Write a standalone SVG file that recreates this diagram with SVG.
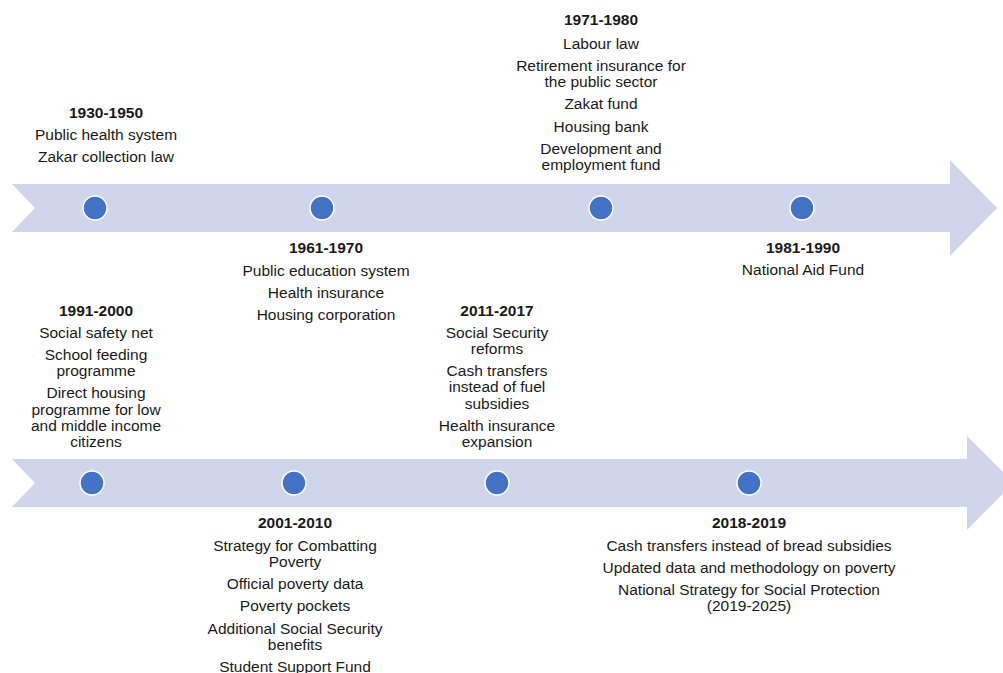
<svg xmlns="http://www.w3.org/2000/svg" width="1003" height="673" viewBox="0 0 1003 673">
<style>
.bar{fill:#CFD5EA}
.dot{fill:#4472C4;stroke:#FFFFFF;stroke-width:1.5}
text{font-family:"Liberation Sans",Arial,sans-serif;font-size:15.5px;fill:#1A1A1A;text-anchor:middle}
.t{font-weight:bold}
</style>
<rect width="1003" height="673" fill="#FFFFFF"/>
<g id="connectors">
<polygon class="bar" points="12,184 950,184 950,160 997,208 950,256 950,232 12,232 35,208"/>
<polygon class="bar" points="12,459 967,459 967,436 1014,483 967,530 967,507 12,507 35,483"/>
</g>
<g id="n1930">
<circle class="dot" cx="95" cy="208" r="12"/>
<text x="106" y="118" class="t">1930-1950</text>
<text x="106" y="140">Public health system</text>
<text x="106" y="162">Zakar collection law</text>
</g>
<g id="n1961">
<circle class="dot" cx="322" cy="208" r="12"/>
<text x="326" y="253" class="t">1961-1970</text>
<text x="326" y="276">Public education system</text>
<text x="326" y="298">Health insurance</text>
<text x="326" y="320">Housing corporation</text>
</g>
<g id="n1971">
<circle class="dot" cx="601" cy="208" r="12"/>
<text x="601" y="25" class="t">1971-1980</text>
<text x="601" y="49">Labour law</text>
<text x="601" y="71">Retirement insurance for</text>
<text x="601" y="87">the public sector</text>
<text x="601" y="109">Zakat fund</text>
<text x="601" y="132">Housing bank</text>
<text x="601" y="154">Development and</text>
<text x="601" y="170">employment fund</text>
</g>
<g id="n1981">
<circle class="dot" cx="802" cy="208" r="12"/>
<text x="803" y="253" class="t">1981-1990</text>
<text x="803" y="275">National Aid Fund</text>
</g>
<g id="n1991">
<circle class="dot" cx="92" cy="483" r="12"/>
<text x="96" y="316" class="t">1991-2000</text>
<text x="96" y="338">Social safety net</text>
<text x="96" y="360">School feeding</text>
<text x="96" y="376">programme</text>
<text x="96" y="398">Direct housing</text>
<text x="96" y="415">programme for low</text>
<text x="96" y="431">and middle income</text>
<text x="96" y="447">citizens</text>
</g>
<g id="n2001">
<circle class="dot" cx="294" cy="483" r="12"/>
<text x="295" y="528" class="t">2001-2010</text>
<text x="295" y="551">Strategy for Combatting</text>
<text x="295" y="567">Poverty</text>
<text x="295" y="589">Official poverty data</text>
<text x="295" y="611">Poverty pockets</text>
<text x="295" y="634">Additional Social Security</text>
<text x="295" y="650">benefits</text>
<text x="295" y="672">Student Support Fund</text>
</g>
<g id="n2011">
<circle class="dot" cx="497" cy="483" r="12"/>
<text x="497" y="316" class="t">2011-2017</text>
<text x="497" y="338">Social Security</text>
<text x="497" y="354">reforms</text>
<text x="497" y="376">Cash transfers</text>
<text x="497" y="392">instead of fuel</text>
<text x="497" y="409">subsidies</text>
<text x="497" y="431">Health insurance</text>
<text x="497" y="447">expansion</text>
</g>
<g id="n2018">
<circle class="dot" cx="749" cy="483" r="12"/>
<text x="749" y="528" class="t">2018-2019</text>
<text x="749" y="551">Cash transfers instead of bread subsidies</text>
<text x="749" y="573">Updated data and methodology on poverty</text>
<text x="749" y="595">National Strategy for Social Protection</text>
<text x="749" y="611">(2019-2025)</text>
</g>
</svg>
